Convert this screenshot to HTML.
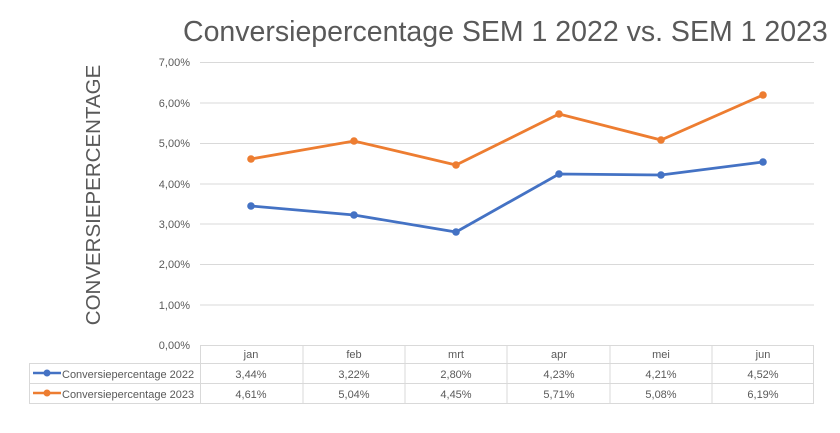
<!DOCTYPE html>
<html><head><meta charset="utf-8"><style>
body{margin:0;background:#fff;width:840px;height:428px;overflow:hidden}
svg text{font-family:"Liberation Sans",sans-serif}
</style></head><body>
<svg width="840" height="428" xmlns="http://www.w3.org/2000/svg">
<text x="183" y="41" font-size="28.5" fill="#595959">Conversiepercentage SEM 1 2022 vs. SEM 1 2023</text>
<text transform="translate(100,195) rotate(-90)" font-size="20.5" fill="#595959" text-anchor="middle">CONVERSIEPERCENTAGE</text>
<g stroke="#d9d9d9" stroke-width="1">
<line x1="200" x2="814" y1="62.5" y2="62.5"/><line x1="200" x2="814" y1="103" y2="103"/>
<line x1="200" x2="814" y1="143.5" y2="143.5"/><line x1="200" x2="814" y1="184" y2="184"/>
<line x1="200" x2="814" y1="224" y2="224"/><line x1="200" x2="814" y1="264.5" y2="264.5"/>
<line x1="200" x2="814" y1="305" y2="305"/>
<line x1="200" x2="814" y1="345.5" y2="345.5"/>
<line x1="29" x2="814" y1="363.5" y2="363.5"/><line x1="29" x2="814" y1="383.5" y2="383.5"/><line x1="29" x2="814" y1="403.5" y2="403.5"/>
<line x1="29.5" x2="29.5" y1="363" y2="404"/>
<line x1="200.5" x2="200.5" y1="345" y2="404"/><line x1="303" x2="303" y1="345" y2="404"/>
<line x1="405" x2="405" y1="345" y2="404"/><line x1="507" x2="507" y1="345" y2="404"/>
<line x1="610" x2="610" y1="345" y2="404"/><line x1="712" x2="712" y1="345" y2="404"/>
<line x1="813.5" x2="813.5" y1="345" y2="404"/>
</g>
<g font-size="11" fill="#595959" text-anchor="end">
<text x="190" y="66">7,00%</text><text x="190" y="107">6,00%</text><text x="190" y="147">5,00%</text>
<text x="190" y="188">4,00%</text><text x="190" y="228">3,00%</text><text x="190" y="268">2,00%</text>
<text x="190" y="309">1,00%</text><text x="190" y="349">0,00%</text>
</g>
<g font-size="11" fill="#595959" text-anchor="middle">
<text x="251" y="358">jan</text><text x="354" y="358">feb</text><text x="456" y="358">mrt</text>
<text x="559" y="358">apr</text><text x="661" y="358">mei</text><text x="763" y="358">jun</text>
<text x="251" y="378">3,44%</text><text x="354" y="378">3,22%</text><text x="456" y="378">2,80%</text>
<text x="559" y="378">4,23%</text><text x="661" y="378">4,21%</text><text x="763" y="378">4,52%</text>
<text x="251" y="398">4,61%</text><text x="354" y="398">5,04%</text><text x="456" y="398">4,45%</text>
<text x="559" y="398">5,71%</text><text x="661" y="398">5,08%</text><text x="763" y="398">6,19%</text>
</g>
<g font-size="11" fill="#595959">
<text x="62" y="378">Conversiepercentage 2022</text><text x="62" y="398">Conversiepercentage 2023</text>
</g>
<line x1="33" x2="61" y1="373" y2="373" stroke="#4472c4" stroke-width="2.5"/><circle cx="47" cy="373" r="3.5" fill="#4472c4"/>
<line x1="33" x2="61" y1="393" y2="393" stroke="#ed7d31" stroke-width="2.5"/><circle cx="47" cy="393" r="3.5" fill="#ed7d31"/>
<polyline fill="none" stroke="#4472c4" stroke-width="2.8" points="251,206 354,215 456,232 559,174 661,175 763,162"/>
<polyline fill="none" stroke="#ed7d31" stroke-width="2.8" points="251,159 354,141 456,165 559,114 661,140 763,95"/>
<g fill="#4472c4"><circle cx="251" cy="206" r="3.8"/><circle cx="354" cy="215" r="3.8"/><circle cx="456" cy="232" r="3.8"/><circle cx="559" cy="174" r="3.8"/><circle cx="661" cy="175" r="3.8"/><circle cx="763" cy="162" r="3.8"/></g>
<g fill="#ed7d31"><circle cx="251" cy="159" r="3.8"/><circle cx="354" cy="141" r="3.8"/><circle cx="456" cy="165" r="3.8"/><circle cx="559" cy="114" r="3.8"/><circle cx="661" cy="140" r="3.8"/><circle cx="763" cy="95" r="3.8"/></g>
</svg>
</body></html>
